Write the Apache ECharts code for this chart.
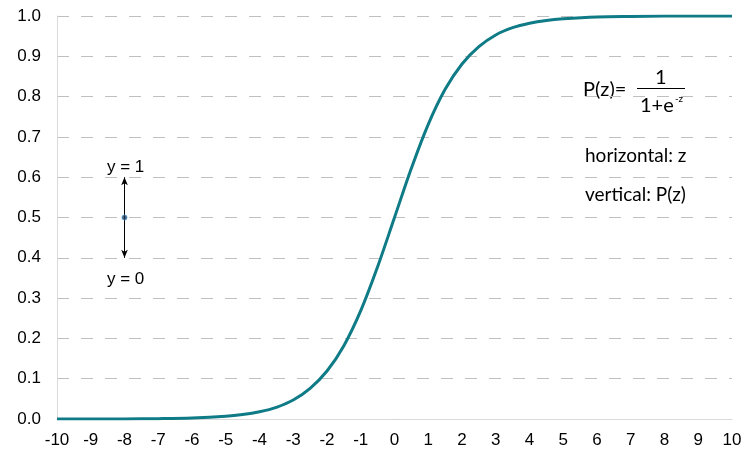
<!DOCTYPE html>
<html><head><meta charset="utf-8">
<script src="https://cdn.jsdelivr.net/npm/echarts@6/dist/echarts.min.js"></script>
<style>html,body{margin:0;padding:0;background:#fff}#c{width:756px;height:454px}</style>
</head><body><div id="c"></div>
<script>
var zValues = [-10,-9,-8,-7,-6,-5,-4.5,-4,-3.5,-3,-2.5,-2,-1.5,-1,-0.5,0,0.5,1,1.5,2,2.5,3,3.5,4,4.5,5,6,7,8,9,10];
var pValues = [0.00005,0.0001,0.0003,0.0009,0.0025,0.0067,0.011,0.018,0.029,0.047,0.076,0.119,0.182,0.269,0.378,0.5,0.622,0.731,0.818,0.881,0.924,0.953,0.971,0.982,0.989,0.993,0.9975,0.999,0.9997,0.9999,1.0];
var xTicks = [-10,-9,-8,-7,-6,-5,-4,-3,-2,-1,0,1,2,3,4,5,6,7,8,9,10];
var arrowFrom = [-8, 0.4], arrowTo = [-8, 0.6], arrowMid = [-8, 0.5];

var chart = echarts.init(document.getElementById('c'));
var font = 'Liberation Sans, Arial, sans-serif';
var afont = 'Lato, "Open Sans", sans-serif';
chart.setOption({
  animation: false,
  grid: {left: 57, right: 24, top: 16, bottom: 35},
  xAxis: {
    type: 'value', min: -10, max: 10, interval: 1,
    axisLine: {show: true, onZero: false, lineStyle: {color: '#d9d9d9', width: 1}},
    axisTick: {show: false},
    splitLine: {show: false},
    axisLabel: {color: '#000', fontSize: 17, fontFamily: font, margin: 13}
  },
  yAxis: {
    type: 'value', min: 0, max: 1, interval: 0.1,
    axisLine: {show: true, onZero: false, lineStyle: {color: '#d9d9d9', width: 1}},
    axisTick: {show: false},
    splitLine: {show: true, lineStyle: {color: '#bfbfbf', type: [12, 12], width: 1}},
    axisLabel: {color: '#000', fontSize: 17, fontFamily: font, margin: 16,
      formatter: function(v){ return v.toFixed(1); }}
  },
  series: [{
    type: 'line', smooth: 0.35, symbol: 'none',
    data: zValues.map(function(z, i){ return [z, pValues[i]]; }),
    lineStyle: {color: '#0f7b86', width: 3},
    z: 3
  }, {
    type: 'scatter', symbolSize: 5,
    data: [arrowMid],
    itemStyle: {color: '#1f3b57', borderColor: '#4a90c8', borderWidth: 1},
    z: 5,
    markLine: {
      silent: true, symbol: ['arrow', 'arrow'], symbolSize: [5, 8],
      lineStyle: {color: '#000', width: 1, type: 'solid'},
      label: {show: false},
      data: [[{coord: arrowFrom}, {coord: arrowTo}]]
    }
  }],
  graphic: [
    {type: 'text', left: 107, top: 159, style: {text: 'y = 1', font: '17px ' + font, fill: '#000'}},
    {type: 'text', left: 107, top: 271, style: {text: 'y = 0', font: '17px ' + font, fill: '#000'}},
    {type: 'text', left: 583, top: 80, style: {text: 'P(z)=', font: '20px ' + afont, fill: '#000'}},
    {type: 'text', left: 655, top: 68, style: {text: '1', font: '20px ' + afont, fill: '#000'}},
    {type: 'line', shape: {x1: 637, y1: 88.5, x2: 685, y2: 88.5}, style: {stroke: '#000', lineWidth: 1}},
    {type: 'text', left: 640, top: 96, style: {text: '1+e', font: '20px ' + afont, fill: '#000'}},
    {type: 'text', left: 675, top: 94, style: {text: '-z', font: '10px ' + afont, fill: '#000'}},
    {type: 'text', left: 585, top: 146, style: {text: 'horizontal: z', font: '19px ' + afont, fill: '#000'}},
    {type: 'text', left: 585, top: 185, style: {text: 'vertical: P(z)', font: '19px ' + afont, fill: '#000'}}
  ]
});
</script></body></html>
